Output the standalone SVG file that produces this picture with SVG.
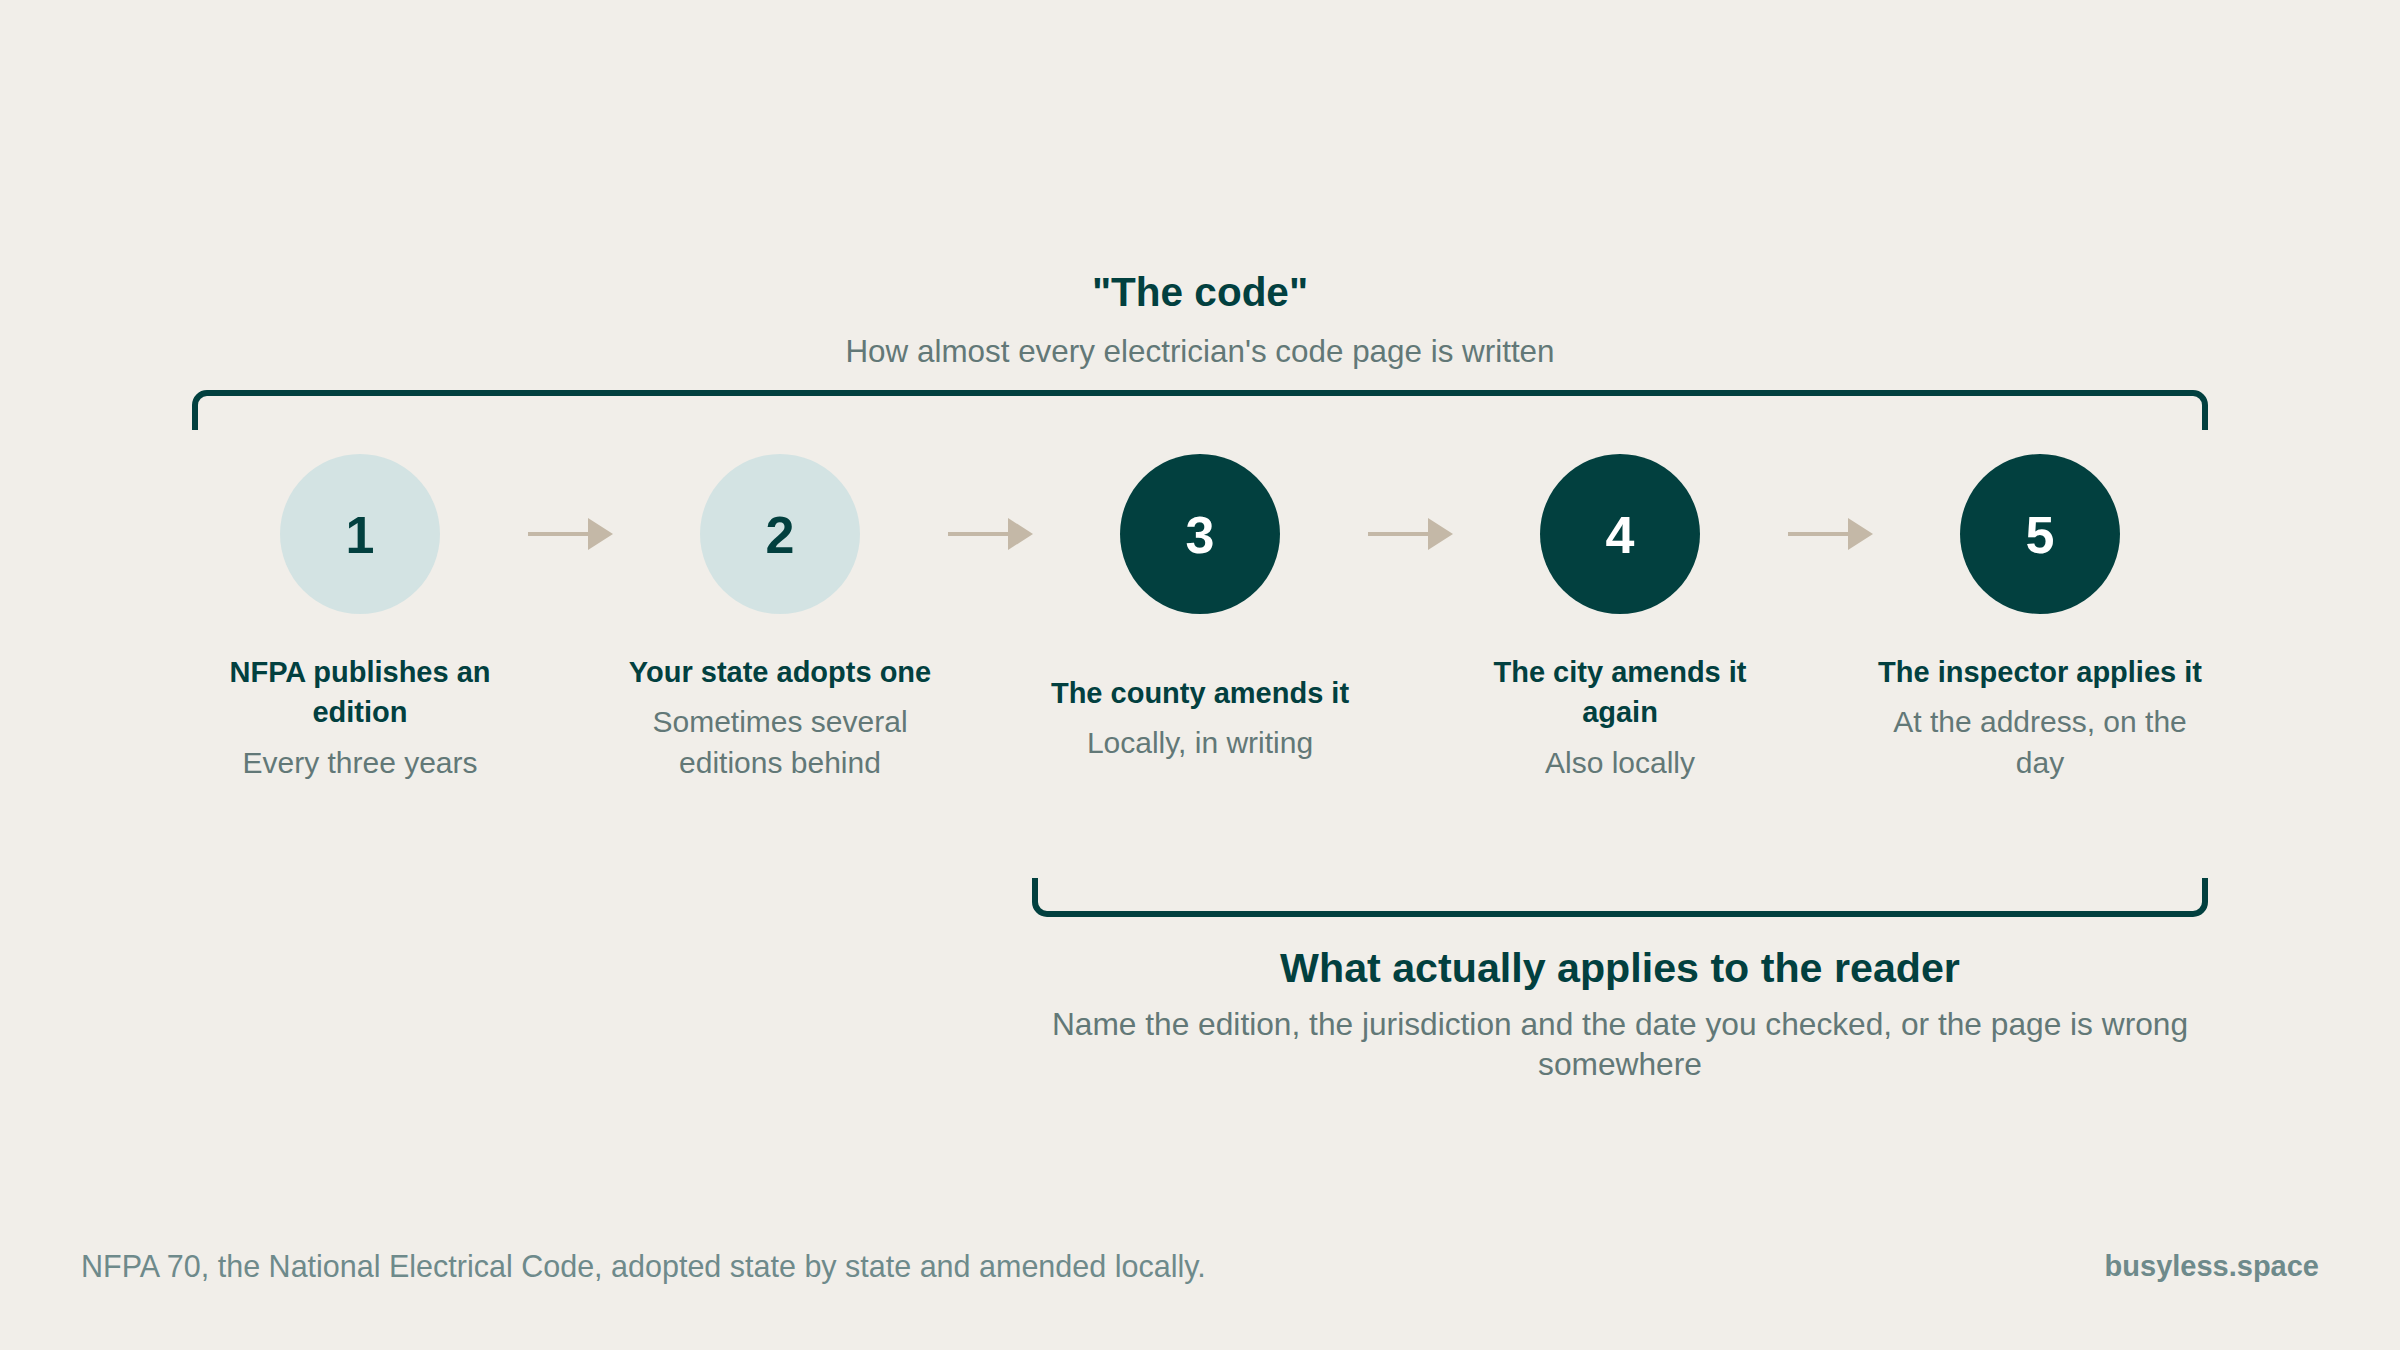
<svg xmlns="http://www.w3.org/2000/svg" width="2400" height="1350" viewBox="0 0 2400 1350">
  <defs>
    <style>
      .bg { fill: #F1EEE9; }
      .bracket { fill: none; stroke: #02403F; stroke-width: 6; }
      .conn { stroke: #C4B8A7; stroke-width: 4; fill: none; }
      .light { fill: #D3E3E3; }
      .dark { fill: #02403F; }
      .num { font-family: "Liberation Sans", Arial, sans-serif; font-weight: 700; font-size: 52px; text-anchor: middle; }
      .num-d { fill: #02403F; }
      .num-l { fill: #FFFFFF; }
      .ttl { font-family: "Liberation Sans", Arial, sans-serif; font-weight: 700; font-size: 29px; fill: #02403F; text-anchor: middle; }
      .sub { font-family: "Liberation Sans", Arial, sans-serif; font-size: 30px; fill: #627877; text-anchor: middle; }
      .head { font-family: "Liberation Sans", Arial, sans-serif; font-weight: 700; fill: #02403F; text-anchor: middle; }
      .desc { font-family: "Liberation Sans", Arial, sans-serif; font-size: 31.7px; fill: #627877; text-anchor: middle; }
      .foot { font-family: "Liberation Sans", Arial, sans-serif; font-size: 30.5px; fill: #6E8A8B; }
      .brand { font-family: "Liberation Sans", Arial, sans-serif; font-size: 29px; font-weight: 700; fill: #6E8A8B; text-anchor: end; }
    </style>
    <marker id="ah" markerUnits="userSpaceOnUse" markerWidth="26" markerHeight="32" refX="0" refY="16" orient="auto">
      <path d="M0,0 L25,16 L0,32 Z" fill="#C4B8A7"/>
    </marker>
  </defs>

  <rect class="bg" x="0" y="0" width="2400" height="1350"/>

  <g id="header">
    <text class="head" x="1200" y="306" font-size="40.5">"The code"</text>
    <text class="desc" x="1200" y="362" style="font-size:31.4px">How almost every electrician's code page is written</text>
    <path class="bracket" d="M195,430 V405 A12,12 0 0 1 207,393 H2193 A12,12 0 0 1 2205,405 V430"/>
  </g>

  <g id="connectors">
    <line class="conn" x1="528" y1="534" x2="588" y2="534" marker-end="url(#ah)"/>
    <line class="conn" x1="948" y1="534" x2="1008" y2="534" marker-end="url(#ah)"/>
    <line class="conn" x1="1368" y1="534" x2="1428" y2="534" marker-end="url(#ah)"/>
    <line class="conn" x1="1788" y1="534" x2="1848" y2="534" marker-end="url(#ah)"/>
  </g>

  <g id="node1">
    <circle class="light" cx="360" cy="534" r="80"/>
    <text class="num num-d" x="360" y="553">1</text>
    <text class="ttl" x="360" y="682">NFPA publishes an</text>
    <text class="ttl" x="360" y="722">edition</text>
    <text class="sub" x="360" y="773">Every three years</text>
  </g>

  <g id="node2">
    <circle class="light" cx="780" cy="534" r="80"/>
    <text class="num num-d" x="780" y="553">2</text>
    <text class="ttl" x="780" y="682">Your state adopts one</text>
    <text class="sub" x="780" y="732">Sometimes several</text>
    <text class="sub" x="780" y="773">editions behind</text>
  </g>

  <g id="node3">
    <circle class="dark" cx="1200" cy="534" r="80"/>
    <text class="num num-l" x="1200" y="553">3</text>
    <text class="ttl" x="1200" y="703">The county amends it</text>
    <text class="sub" x="1200" y="753">Locally, in writing</text>
  </g>

  <g id="node4">
    <circle class="dark" cx="1620" cy="534" r="80"/>
    <text class="num num-l" x="1620" y="553">4</text>
    <text class="ttl" x="1620" y="682">The city amends it</text>
    <text class="ttl" x="1620" y="722">again</text>
    <text class="sub" x="1620" y="773">Also locally</text>
  </g>

  <g id="node5">
    <circle class="dark" cx="2040" cy="534" r="80"/>
    <text class="num num-l" x="2040" y="553">5</text>
    <text class="ttl" x="2040" y="682">The inspector applies it</text>
    <text class="sub" x="2040" y="732">At the address, on the</text>
    <text class="sub" x="2040" y="773">day</text>
  </g>

  <g id="reader">
    <path class="bracket" d="M1035,878 V902 A12,12 0 0 0 1047,914 H2193 A12,12 0 0 0 2205,902 V878"/>
    <text class="head" x="1620" y="982" font-size="41.2">What actually applies to the reader</text>
    <text class="desc" x="1620" y="1035">Name the edition, the jurisdiction and the date you checked, or the page is wrong</text>
    <text class="desc" x="1620" y="1075">somewhere</text>
  </g>

  <g id="footer">
    <text class="foot" x="81" y="1277">NFPA 70, the National Electrical Code, adopted state by state and amended locally.</text>
    <text class="brand" x="2319" y="1276">busyless.space</text>
  </g>
</svg>
